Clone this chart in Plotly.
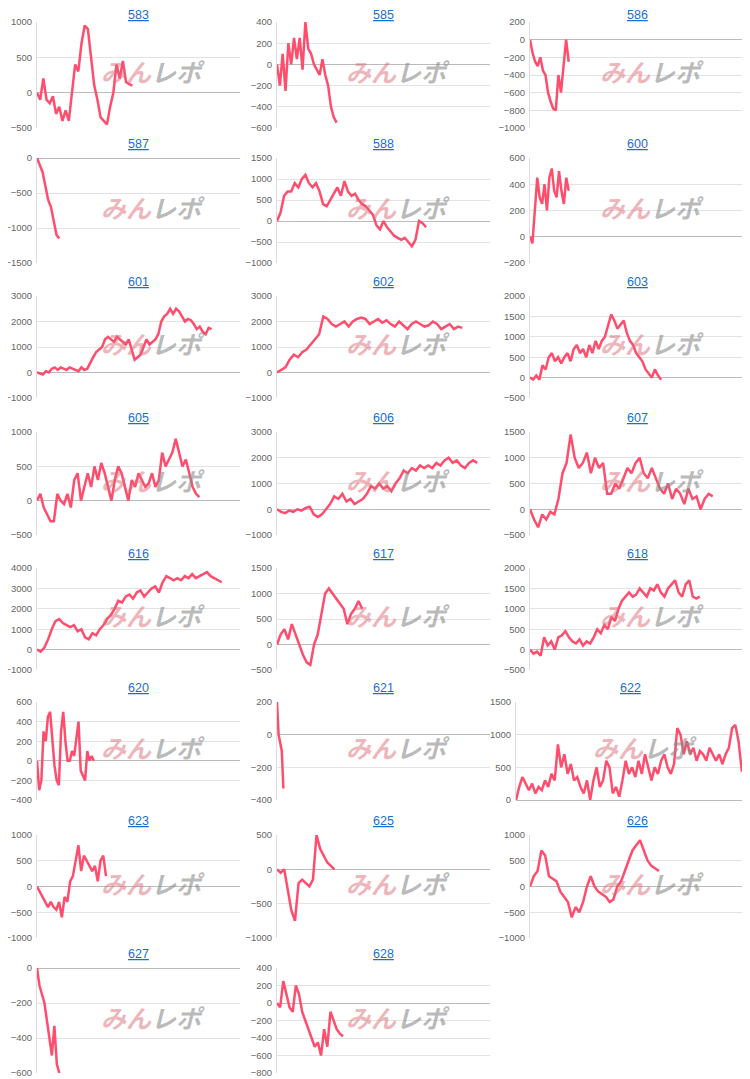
import plotly.graph_objects as go

names = ["583","585","586","587","588","600","601","602","603","605","606","607",
         "616","617","618","620","621","622","623","625","626","627","628"]

s583 = [0,-100,200,-100,-150,-50,-300,-200,-400,-250,-400,0,400,300,700,950,900,500,100,-100,-350,-400,-450,-200,0,400,200,450,150,120,100]
s585 = [0,-200,100,-250,200,0,250,50,250,-50,400,150,100,0,-50,-100,50,-100,-200,-400,-500,-550]
s586 = [0,-150,-250,-300,-200,-350,-400,-600,-700,-780,-800,-400,-600,-250,0,-250]
s587 = [0,-100,-200,-400,-600,-700,-900,-1100,-1150]
s588 = [0,200,600,700,700,900,800,1000,1100,900,800,900,700,400,350,500,650,800,600,950,700,600,650,500,400,350,250,150,-100,-200,0,-150,-250,-350,-400,-450,-400,-500,-600,-450,0,-50,-150]
s600 = [0,-50,200,450,300,250,400,200,450,520,350,300,500,350,250,450,350]
s601 = [0,-50,-80,50,0,150,200,100,200,150,100,200,150,100,50,200,100,150,400,600,800,900,1000,1300,1400,1300,1200,1400,1300,1200,1100,1300,900,500,600,700,1000,1300,1100,1200,1300,1500,2000,2200,2300,2500,2300,2500,2400,2200,2000,2100,2050,1900,1700,1800,1600,1500,1750,1700]
s602 = [0,100,200,500,700,600,800,900,1100,1300,1500,2200,2100,1900,1800,1900,2000,1800,2000,2100,2150,2100,1900,2000,2100,1950,2050,1900,1800,2000,1850,1700,1900,2000,1900,1800,1850,2000,1900,1700,1800,1900,1700,1800,1750]
s603 = [0,-50,50,-50,300,200,500,600,400,500,350,500,600,400,700,800,600,700,500,800,600,900,700,900,1000,1300,1550,1400,1200,1300,1400,1100,900,800,600,500,400,200,100,0,200,50,-50]
s605 = [0,100,-100,-200,-300,-300,100,0,-50,100,-100,300,400,0,200,400,200,500,300,550,400,200,0,300,500,400,200,0,300,200,400,300,200,250,400,200,300,700,500,600,700,900,700,500,600,400,200,100,50]
s606 = [0,-100,-150,-50,-100,0,-50,50,100,-200,-300,-200,0,200,500,400,600,300,400,200,300,400,600,900,800,1000,800,900,700,1000,1200,1500,1400,1600,1500,1700,1600,1700,1600,1800,1700,1900,2000,1800,1900,1700,1600,1800,1900,1800]
s607 = [0,-200,-350,-100,-200,-50,-100,200,700,900,1450,1000,800,900,1100,700,1000,800,900,300,300,500,400,600,800,700,900,1000,700,600,800,600,400,300,500,200,400,300,100,400,200,250,0,200,300,250]
s616 = [0,-100,100,500,1000,1400,1500,1300,1200,1100,1200,900,1000,600,500,800,700,1000,1200,1500,1700,2000,2400,2300,2600,2700,2500,2800,2900,2600,2800,3000,3100,2800,3300,3600,3500,3400,3500,3400,3600,3500,3700,3500,3600,3700,3800,3600,3500,3400,3300]
s617 = [0,200,300,100,400,200,0,-200,-350,-400,0,200,600,1000,1100,1000,900,800,700,400,600,700,850,700]
s618 = [0,-100,-50,-150,300,100,200,0,300,350,450,300,200,150,250,100,200,150,300,500,400,600,500,800,700,1000,1200,1300,1400,1300,1350,1500,1400,1300,1500,1450,1600,1400,1300,1500,1600,1700,1400,1300,1600,1700,1300,1250,1300]
s620 = [0,-300,-200,300,200,450,500,200,-50,-200,-250,300,500,200,0,0,100,50,200,400,-100,-150,-200,100,0,50,0]
s621 = [200,0,-50,-100,-330]
s622 = [0,200,350,250,150,250,100,200,150,300,200,400,300,850,500,700,400,550,300,350,200,100,300,0,300,500,200,300,600,500,100,200,50,300,600,400,500,350,600,400,700,500,300,500,400,600,700,500,400,550,1100,1000,700,900,700,800,600,750,700,600,800,700,600,700,550,700,800,1100,1150,900,450,450]
s623 = [0,-100,-200,-300,-400,-300,-400,-450,-300,-600,-200,-300,100,200,500,800,300,600,500,400,300,400,100,500,600,200]
s625 = [0,-50,0,-300,-600,-750,-200,-150,-200,-250,-150,500,300,200,100,50,0]
s626 = [0,200,300,700,600,200,150,100,-100,-200,-300,-600,-400,-500,-300,0,200,0,-100,-150,-200,-300,-250,0,100,300,500,700,800,900,700,500,400,350,300]
s627 = [0,-100,-150,-200,-300,-400,-500,-330,-550,-600]
s628 = [0,-50,250,100,-50,-100,200,100,-100,-200,-300,-400,-500,-450,-600,-300,-500,-100,-200,-300,-350,-380]

series = [s583,s585,s586,s587,s588,s600,s601,s602,s603,s605,s606,s607,
          s616,s617,s618,s620,s621,s622,s623,s625,s626,s627,s628]

ticks = [
 [-500,0,500,1000],[-600,-400,-200,0,200,400],[-1000,-800,-600,-400,-200,0,200],
 [-1500,-1000,-500,0],[-1000,-500,0,500,1000,1500],[-200,0,200,400,600],
 [-1000,0,1000,2000,3000],[-1000,0,1000,2000,3000],[-500,0,500,1000,1500,2000],
 [-500,0,500,1000],[-1000,0,1000,2000,3000],[-500,0,500,1000,1500],
 [-1000,0,1000,2000,3000,4000],[-500,0,500,1000,1500],[-500,0,500,1000,1500,2000],
 [-400,-200,0,200,400,600],[-400,-200,0,200],[0,500,1000,1500],
 [-1000,-500,0,500,1000],[-1000,-500,0,500],[-1000,-500,0,500,1000],
 [-600,-400,-200,0],[-800,-600,-400,-200,0,200,400],
]
spans = [0.47,0.28,0.18,0.11,0.70,0.18,0.86,0.87,0.61,0.80,0.94,0.85,
         0.91,0.40,0.79,0.28,0.03,1.0,0.34,0.27,0.60,0.11,0.31]

OX, OY = 8, 8
cols = [(37,240),(277,490),(530,745)]
rows = [(22,128),(158,263),(296,398),(432,535),(568,670),(702,800),(835,938),(968,1073)]
W, H = 750, 1079

fig = go.Figure()
for i,(nm,s,tk,sp) in enumerate(zip(names,series,ticks,spans)):
    r, c = divmod(i,3)
    x0,x1 = cols[c]
    if nm == "622":
        x0 = 516
    y0,y1 = rows[r]
    cx = (x0+x1)/2 - OX
    x0 -= OX; x1 -= OX; y0 -= OY; y1 -= OY
    ty = max(y0 - 14, 7)
    ax = "" if i == 0 else str(i+1)
    fig.add_trace(go.Scatter(x=list(range(len(s))), y=s, mode="lines",
        line=dict(color="#ff4d6d", width=2.5), xaxis="x"+ax, yaxis="y"+ax,
        showlegend=False, hoverinfo="skip"))
    xmax = (len(s)-1)/sp if sp < 1 else len(s)-1
    fig.layout["xaxis"+ax] = dict(domain=[x0/W,min(x1/W,1)], range=[0,xmax],
        showticklabels=False, showgrid=False, zeroline=False, anchor="y"+ax, automargin=False)
    fig.layout["yaxis"+ax] = dict(domain=[1-y1/H,1-y0/H], range=[tk[0],tk[-1]],
        tickvals=tk, tickfont=dict(size=9.5,color="#666"), gridcolor="#e3e3e3",
        zeroline=True, zerolinecolor="#bbb", zerolinewidth=1, automargin=False,
        showline=True, linecolor="#ddd", ticks="", anchor="x"+ax, ticklabelstandoff=2)
    fig.add_annotation(x=cx/W, y=1-ty/H, xref="paper", yref="paper",
        xanchor="center", yanchor="middle", text="<u>%s</u>" % nm, showarrow=False,
        font=dict(size=12.5,color="#1a6fd1",family="Arial"))
    fig.add_annotation(x=(cx+14)/W, y=1-((y0+y1)/2-4)/H, xref="paper", yref="paper",
        xanchor="center", yanchor="middle",
        text="<b><i><span style='color:rgba(220,110,120,0.5)'>みん</span><span style='color:rgba(140,140,140,0.6)'>レポ</span></i></b>",
        showarrow=False, font=dict(size=25,family="Noto Sans CJK JP"))

fig.update_layout(width=W, height=H, margin=dict(l=0,r=0,t=0,b=0), autosize=False,
    plot_bgcolor="white", paper_bgcolor="white", font=dict(family="Arial"))
fig.write_html("out.html")
